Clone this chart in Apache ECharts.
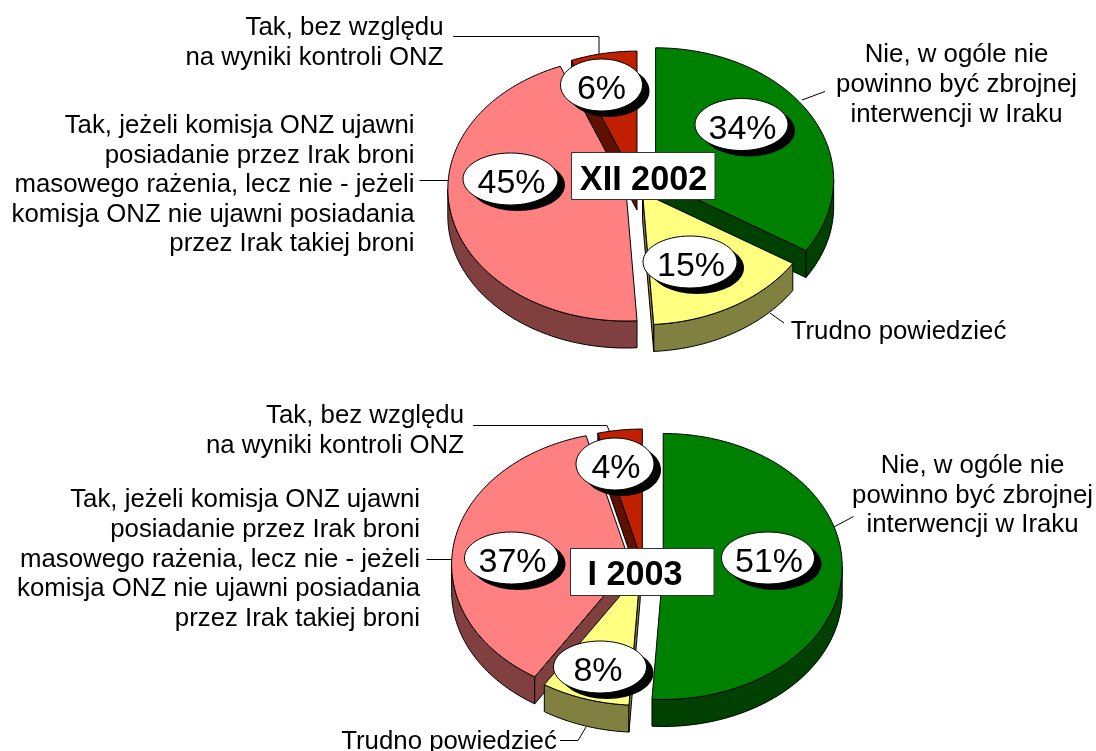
<!DOCTYPE html>
<html>
<head>
<meta charset="utf-8">
<title>Interwencja w Iraku</title>
<script src="https://cdn.jsdelivr.net/npm/echarts@6/dist/echarts.min.js"></script>
<style>
  html, body { margin: 0; padding: 0; background: #fff; }
  #main { width: 1096px; height: 751px; }
</style>
</head>
<body>
<div id="main"></div>
<script>
// values in percent, clockwise from the top
var values2002 = [34, 15, 45, 6]
var values2003 = [51, 8, 37, 4]
var periods = ['XII 2002', 'I 2003']

var labelNie = ['Nie, w ogóle nie', 'powinno być zbrojnej', 'interwencji w Iraku']
var labelTrudno = ['Trudno powiedzieć']
var labelBez = ['Tak, bez względu', 'na wyniki kontroli ONZ']
var labelJezeli = [
  'Tak, jeżeli komisja ONZ ujawni',
  'posiadanie przez Irak broni',
  'masowego rażenia, lecz nie - jeżeli',
  'komisja ONZ nie ujawni posiadania',
  'przez Irak takiej broni'
]

var topColors = ['#008000', '#FFFF80', '#FF8080', '#C02000']
var sideColors = ['#004000', '#808040', '#804040', '#601000']
var drawOrder = [3, 2, 0, 1]
// how far each slice is pulled out, as a share of the radius
var explode = [0.113, 0.05, 0.07, 0.03]

var FONT = '"Liberation Sans", Arial, sans-serif'
var DEPTH = 27

function ellipsePoint (p, off, deg, drop) {
  var a = deg * Math.PI / 180
  return [off[0] + p.rx * Math.sin(a), off[1] - p.ry * Math.cos(a) + (drop || 0)]
}

function arcPoints (p, off, from, to, drop) {
  var pts = []
  var n = Math.max(2, Math.ceil((to - from) / 1.5))
  for (var i = 0; i <= n; i++) {
    pts.push(ellipsePoint(p, off, from + (to - from) * i / n, drop))
  }
  return pts
}

function poly (points, fill) {
  return {
    type: 'polygon',
    shape: { points: points },
    style: { fill: fill, stroke: '#000', lineWidth: 1, lineJoin: 'round' }
  }
}

function sliceSeries (values, p) {
  var total = values.reduce(function (a, b) { return a + b }, 0)
  var starts = []
  var sum = 0
  values.forEach(function (v) { starts.push(sum); sum += v })
  return {
    type: 'custom',
    coordinateSystem: 'none',
    silent: true,
    z: 2,
    data: drawOrder.map(function (i) { return [values[i], i] }),
    renderItem: function (params, api) {
      var i = api.value(1)
      var from = starts[i] / total * 360
      var to = from + api.value(0) / total * 360
      var mid = (from + to) / 2 * Math.PI / 180
      var off = [
        p.cx + explode[i] * p.rx * Math.sin(mid),
        p.cy - explode[i] * p.ry * Math.cos(mid)
      ]
      var kids = []
      // outer wall, only the part facing down
      var wallFrom = Math.max(from, 90)
      var wallTo = Math.min(to, 270)
      if (wallTo > wallFrom) {
        kids.push(poly(
          arcPoints(p, off, wallFrom, wallTo, 0)
            .concat(arcPoints(p, off, wallFrom, wallTo, DEPTH).reverse()),
          sideColors[i]
        ))
      }
      // cut faces
      var under = [off[0], off[1] + DEPTH]
      if (from > 180 && from < 360) {
        kids.push(poly([off, ellipsePoint(p, off, from), ellipsePoint(p, off, from, DEPTH), under], sideColors[i]))
      }
      if (to > 0 && to < 180) {
        kids.push(poly([off, ellipsePoint(p, off, to), ellipsePoint(p, off, to, DEPTH), under], sideColors[i]))
      }
      kids.push(poly([off].concat(arcPoints(p, off, from, to, 0)), topColors[i]))
      return { type: 'group', children: kids }
    }
  }
}

function bubbleSeries (values, spots) {
  return {
    type: 'custom',
    coordinateSystem: 'none',
    silent: true,
    z: 3,
    data: values.map(function (v, i) { return [v, i] }),
    renderItem: function (params, api) {
      var s = spots[api.value(1)]
      var rx = s[2] / 2
      return {
        type: 'group',
        children: [
          { type: 'ellipse', shape: { cx: s[0] + 7, cy: s[1] + 6, rx: rx, ry: 26 }, style: { fill: '#000' } },
          { type: 'ellipse', shape: { cx: s[0], cy: s[1], rx: rx, ry: 26 }, style: { fill: '#fff', stroke: '#000', lineWidth: 1 } },
          {
            type: 'text',
            style: {
              x: s[0] + s[3], y: s[1] + 5, text: api.value(0) + '%',
              font: '34px ' + FONT, fill: '#000', align: 'center', verticalAlign: 'middle'
            }
          }
        ]
      }
    }
  }
}

function textLines (lines, x, y, align) {
  return lines.map(function (t, i) {
    return {
      type: 'text',
      z: 10,
      silent: true,
      style: {
        x: x, y: y + i * 29.6, text: t, fill: '#000',
        font: '25.8px ' + FONT, align: align, verticalAlign: 'middle'
      }
    }
  })
}

function leader (points) {
  return {
    type: 'polyline',
    z: 1,
    silent: true,
    shape: { points: points },
    style: { stroke: '#000', lineWidth: 1, fill: null }
  }
}

function periodBox (text, box, textX, textY) {
  return [
    {
      type: 'rect',
      z: 20,
      silent: true,
      shape: { x: box[0], y: box[1], width: box[2], height: box[3] },
      style: { fill: '#fff', stroke: '#333', lineWidth: 1 }
    },
    {
      type: 'text',
      z: 21,
      silent: true,
      style: {
        x: textX, y: textY, text: text, fill: '#000',
        font: 'bold 34.2px ' + FONT, align: 'center', verticalAlign: 'middle'
      }
    }
  ]
}

var pieTop = { cx: 638, cy: 187, rx: 178, ry: 132 }
var pieBottom = { cx: 643, cy: 566, rx: 179, ry: 133 }

var chart = echarts.init(document.getElementById('main'), null, { renderer: 'canvas' })
chart.setOption({
  animation: false,
  backgroundColor: '#fff',
  series: [
    sliceSeries(values2002, pieTop),
    bubbleSeries(values2002, [[741.5, 124.5, 93, 1], [690, 262, 94, 1], [510.5, 179, 95, 1], [601.5, 85, 82, 0]]),
    sliceSeries(values2003, pieBottom),
    bubbleSeries(values2003, [[768, 558, 93, 1], [600, 667, 93, -2], [511.5, 558, 94, 1], [615, 464, 78, 1]])
  ],
  graphic: {
    elements: [].concat(
      leader([[453, 36.5], [599, 36.5], [599, 57]]),
      leader([[802, 100], [825, 91.5]]),
      leader([[419.5, 180.5], [448, 180.5]]),
      leader([[770, 313], [784, 323]]),
      leader([[473, 425.5], [607, 425.5], [611, 435]]),
      leader([[833, 527.5], [853.5, 516.5]]),
      leader([[426.5, 559.5], [453, 559.5]]),
      leader([[560, 740.5], [578, 740.5], [586, 727]]),
      textLines(labelBez, 443.5, 27.8, 'right'),
      textLines(labelJezeli, 414.5, 125.8, 'right'),
      textLines(labelNie, 956.5, 55.2, 'center'),
      textLines(labelTrudno, 898.5, 332.2, 'center'),
      textLines(labelBez, 464, 415.8, 'right'),
      textLines(labelJezeli, 420, 500.2, 'right'),
      textLines(labelNie, 972.5, 465.8, 'center'),
      textLines(labelTrudno, 449, 741.8, 'center'),
      periodBox(periods[0], [571.5, 152.5, 143.5, 47], 643.5, 181),
      periodBox(periods[1], [570.5, 548.5, 143.5, 47], 635, 575.5)
    )
  }
})
</script>
</body>
</html>
